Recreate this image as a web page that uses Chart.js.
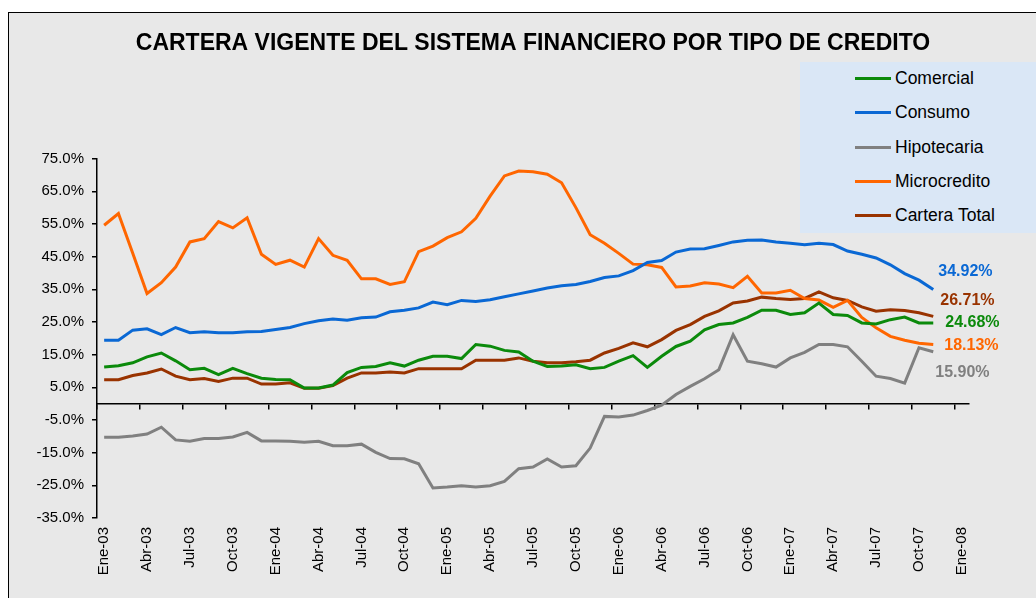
<!DOCTYPE html>
<html>
<head>
<meta charset="utf-8">
<script src="https://cdn.jsdelivr.net/npm/chart.js@4"></script>
<style>
  body { margin: 0; background: #fff; font-family: Arial, "Liberation Sans", sans-serif; }
  #frame { position: absolute; left: 8px; top: 12px; width: 1040px; height: 600px;
           background: #e8e8e8; border-left: 1.5px solid #000; border-top: 1.5px solid #000; }
  #legend { position: absolute; left: 800px; top: 62px; width: 236px; height: 171px;
            background: #dae7f6; }
  .item { position: absolute; left: 55px; height: 20px; font-size: 17.5px; color: #000; }
  .item span.swatch { position: absolute; left: 0; top: 9px; width: 36px; height: 3px; }
  .item span.txt { position: absolute; left: 40px; top: 0; white-space: nowrap; line-height: 20px; }
  canvas { position: absolute; left: 0; top: 0; }
</style>
</head>
<body>
<div id="frame"></div>
<div id="legend"></div>
<canvas id="chart" width="1036" height="598"></canvas>
<script>
const monthNames = ["Ene", "Feb", "Mar", "Abr", "May", "Jun", "Jul", "Ago", "Sep", "Oct", "Nov", "Dic"];
const yearNames = ["03", "04", "05", "06", "07", "08"];

const comercial = [11.2, 11.6, 12.5, 14.3, 15.5, 13.1, 10.4, 10.8, 8.9, 10.8, 9.2, 7.8, 7.4, 7.3, 4.8, 4.8, 5.7, 9.5,
  11.1, 11.4, 12.5, 11.5, 13.3, 14.5, 14.5, 13.8, 18.1, 17.6, 16.3, 15.8, 13.0, 11.4,
  11.5, 11.9, 10.7, 11.1, 13.0, 14.7, 11.1, 14.5, 17.5, 19.1, 22.6, 24.2,
  24.7, 26.4, 28.6, 28.6, 27.3, 27.8, 30.8, 27.3, 27.0, 24.7, 24.4, 25.7, 26.5, 24.7, 24.68];
const consumo = [19.4, 19.4, 22.5, 22.9, 21.1, 23.3, 21.7, 22.0, 21.7, 21.7, 22.0, 22.1, 22.7, 23.3, 24.5, 25.4, 25.9, 25.5,
  26.3, 26.5, 28.1, 28.6, 29.3, 31.1, 30.3, 31.6, 31.3, 31.8, 32.7, 33.6, 34.5, 35.4,
  36.1, 36.5, 37.4, 38.6, 39.1, 40.7, 43.2, 43.8, 46.4, 47.3, 47.4, 48.4,
  49.5, 50.0, 50.1, 49.5, 49.1, 48.6, 49.1, 48.7, 46.7, 45.7, 44.6, 42.5, 39.8, 37.8, 34.92];
const hipotecaria = [-10.3, -10.3, -9.9, -9.3, -7.2, -11.1, -11.5, -10.7, -10.7, -10.2, -8.8, -11.4, -11.4, -11.5, -11.8, -11.5, -12.9, -12.9,
  -12.4, -14.9, -16.8, -16.9, -18.4, -25.8, -25.5, -25.1, -25.5, -25.1, -23.8, -19.9, -19.4, -16.9, -19.4, -19.0, -13.6,
  -3.9, -4.1, -3.5, -2.1, -0.5, 2.8, 5.3, 7.6, 10.4,
  21.1, 13.0, 12.2, 11.2, 14.0, 15.7, 18.1, 18.1, 17.4, 13.0, 8.4, 7.7, 6.3, 17.1, 15.90];
const microcredito = [54.6, 58.2, 46.0, 33.7, 37.0, 41.8, 49.5, 50.5, 55.7, 53.8, 56.9, 45.7, 42.6, 43.9, 41.8, 50.5, 45.4, 43.9,
  38.2, 38.2, 36.5, 37.3, 46.5, 48.2, 50.8, 52.6, 56.7, 63.5, 69.7, 71.2, 71.0, 70.2, 67.6, 60.0,
  51.7, 49.1, 46.0, 42.7, 42.5, 41.7, 35.7, 36.0, 37.0, 36.6,
  35.5, 39.0, 33.9, 33.9, 34.7, 32.2, 31.7, 29.5, 31.6, 26.4, 23.2, 20.6, 19.4, 18.5, 18.13];
const carteraTotal = [7.3, 7.3, 8.6, 9.4, 10.6, 8.4, 7.3, 7.7, 6.8, 7.8, 7.8, 6.0, 6.0, 6.4, 4.7, 4.7, 5.5, 7.8,
  9.4, 9.4, 9.7, 9.4, 10.7, 10.7, 10.7, 10.7, 13.3, 13.3, 13.3, 14.0, 13.0, 12.5,
  12.5, 12.8, 13.3, 15.5, 16.9, 18.6, 17.4, 19.6, 22.4, 24.2, 26.7, 28.4,
  30.8, 31.4, 32.6, 32.2, 31.9, 32.2, 34.2, 32.4, 31.6, 29.6, 28.3, 28.7, 28.5, 27.8, 26.71];

// month labels Ene-03 .. Ene-08
const labels = [];
yearNames.forEach(y => monthNames.forEach(m => labels.push(m + "-" + y)));
labels.length = 61;

const series = [
  { label: "Comercial", data: comercial, color: "#0b8a0b", shift: [12, 0] },
  { label: "Consumo", data: consumo, color: "#0a68d4", shift: [5, -18] },
  { label: "Hipotecaria", data: hipotecaria, color: "#808080", shift: [2, 21] },
  { label: "Microcredito", data: microcredito, color: "#ff6600", shift: [11, 1] },
  { label: "Cartera Total", data: carteraTotal, color: "#993300", shift: [7, -16] }
];

// legend box
const legend = document.getElementById("legend");
series.forEach((s, i) => {
  const div = document.createElement("div");
  div.className = "item";
  div.style.top = (6 + i * 34.3) + "px";
  div.innerHTML = '<span class="swatch" style="background:' + s.color + '"></span><span class="txt">' + s.label + "</span>";
  legend.appendChild(div);
});

// last value printed next to the end of each line
const endLabels = {
  id: "endLabels",
  afterDatasetsDraw(chart) {
    const ctx = chart.ctx;
    ctx.save();
    ctx.font = "bold 16px Arial";
    ctx.textBaseline = "middle";
    ctx.textAlign = "left";
    chart.data.datasets.forEach((ds, i) => {
      const pts = chart.getDatasetMeta(i).data;
      const last = pts[pts.length - 1];
      const s = series[i];
      ctx.fillStyle = s.color;
      ctx.fillText(ds.data[ds.data.length - 1].toFixed(2) + "%", last.x + s.shift[0], last.y + s.shift[1]);
    });
    ctx.restore();
  }
};

new Chart(document.getElementById("chart"), {
  type: "line",
  data: {
    labels: labels,
    datasets: series.map(s => ({
      label: s.label,
      data: s.data,
      borderColor: s.color,
      backgroundColor: s.color,
      borderWidth: 3,
      pointRadius: 0,
      tension: 0,
      fill: false
    }))
  },
  options: {
    responsive: false,
    animation: false,
    layout: { padding: { left: 12, right: 67, top: 0, bottom: 10 } },
    plugins: {
      legend: { display: false },
      tooltip: { enabled: false },
      title: {
        display: true,
        text: "CARTERA VIGENTE DEL SISTEMA FINANCIERO POR TIPO DE CREDITO",
        color: "#000",
        fullSize: false,
        font: { family: "Arial", size: 23, weight: "bold" },
        padding: { top: 30, bottom: 101 }
      }
    },
    scales: {
      x: {
        type: "category",
        offset: true,
        border: { display: false },
        grid: { display: false, drawTicks: false },
        afterFit: scale => { scale.height = 70; },
        ticks: {
          autoSkip: false,
          minRotation: 90,
          maxRotation: 90,
          padding: 9,
          color: "#000",
          font: { family: "Arial", size: 15 },
          callback: function (val, idx) { return idx % 3 === 0 ? this.getLabelForValue(val) : null; }
        }
      },
      x2: {
        type: "category",
        position: { y: 0 },
        offset: true,
        border: { display: true, color: "#000", width: 1.5 },
        grid: {
          drawOnChartArea: false,
          offset: true,
          tickLength: 5,
          lineWidth: 1.5,
          color: c => (c.index !== undefined && c.index % 3 === 0) ? "#000" : "rgba(0,0,0,0)"
        },
        ticks: { display: false }
      },
      y: {
        min: -35,
        max: 75,
        afterFit: scale => { scale.width = 85; },
        border: { display: true, color: "#000", width: 1.5 },
        grid: { drawOnChartArea: false, tickLength: 5, color: "#000", lineWidth: 1.5 },
        ticks: {
          stepSize: 10,
          padding: 8,
          color: "#000",
          font: { family: "Arial", size: 15 },
          callback: v => v.toFixed(1) + "%"
        }
      }
    }
  },
  plugins: [endLabels]
});
</script>
</body>
</html>
